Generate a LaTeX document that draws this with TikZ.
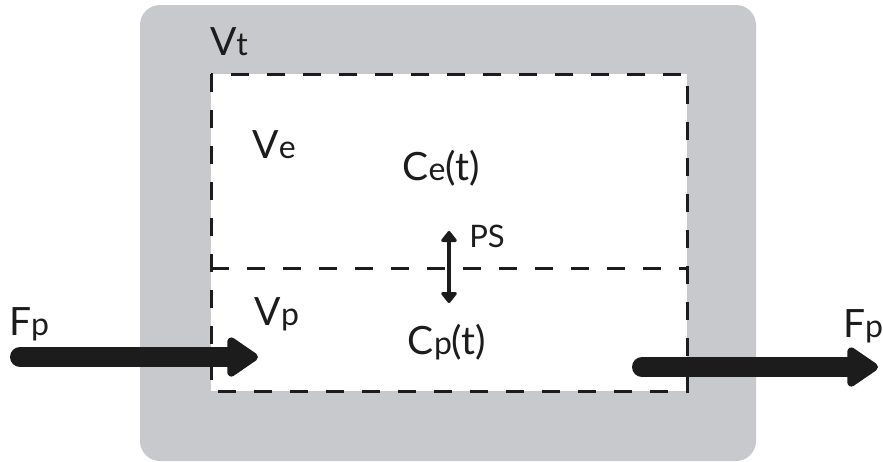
\documentclass[tikz,border=0pt]{standalone}
\usepackage{fontspec}
\setmainfont{Lato}
\usetikzlibrary{arrows.meta, positioning}
\definecolor{shellgray}{RGB}{200,201,204}
\definecolor{inkblack}{RGB}{28,28,28}
\newcommand{\subl}[1]{{\fontsize{16}{18}\selectfont #1}}
\tikzset{
  volLabel/.style={
    inner sep=0pt,
    text=inkblack,
    font=\fontsize{19.5}{22}\selectfont
  },
  psLabel/.style={
    inner sep=0pt,
    text=inkblack,
    font=\fontsize{15.5}{18}\selectfont
  },
  compLine/.style={
    draw=inkblack,
    line width=1.5pt,
    dash pattern=on 9pt off 9pt
  },
  flowArrow/.style={
    draw=inkblack,
    line width=10pt,
    line cap=round,
    -{Triangle[length=17pt, width=22pt, round, line width=4pt]}
  },
  exchArrow/.style={
    draw=inkblack,
    line width=2.2pt,
    {Triangle[length=6pt, width=9pt, round, line width=1.5pt]}-{Triangle[length=6pt, width=9pt, round, line width=1.5pt]}
  }
}
\begin{document}
\begin{tikzpicture}[x=0.5pt, y=-0.5pt]
  \useasboundingbox (0,0) rectangle (883,461);
  % tissue shell and compartments
  \fill[shellgray, rounded corners=10pt] (140,5) rectangle (756,461);
  \fill[white] (211,74) rectangle (687,391);
  \draw[compLine] (211,74) rectangle (687,391);
  \draw[compLine] (211,268) -- (687,268);
  % labels
  \node[volLabel] (vt) at (229,42) {V\subl{t}};
  \node[volLabel] (ve) at (274,145) {V\subl{e}};
  \node[volLabel] (ce) at (441,168) {C\subl{e}(t)};
  \node[volLabel] (vp) at (277,314) {V\subl{p}};
  \node[volLabel] (cp) at (447,342) {C\subl{p}(t)};
  \node[psLabel] (ps) at (487,236) {PS};
  \node[volLabel] (fpin) at (29,324) {F\subl{p}};
  \node[volLabel] (fpout) at (863,326) {F\subl{p}};
  % exchange and flow
  \coordinate (psTop) at (449,231);
  \coordinate (psBot) at (449,303);
  \draw[exchArrow] (psTop) -- (psBot);
  \coordinate (inStart) at (20,357);
  \coordinate (inEnd) at (258,357);
  \draw[flowArrow] (inStart) -- (inEnd);
  \coordinate (outStart) at (642,367);
  \coordinate (outEnd) at (878,367);
  \draw[flowArrow] (outStart) -- (outEnd);
\end{tikzpicture}
\end{document}
